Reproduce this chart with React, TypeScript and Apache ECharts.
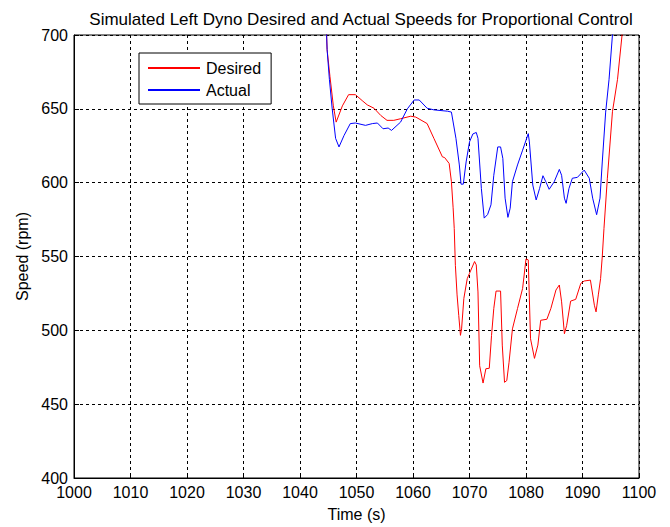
import React, { useEffect, useRef } from "react";
import * as echarts from "echarts";

const titleText = "Simulated Left Dyno Desired and Actual Speeds for Proportional Control";
const xTitle = "Time (s)";
const yTitle = "Speed (rpm)";
const seriesNames = ["Desired", "Actual"];

const desiredTime = [
  1044.6, 1044.8, 1045.3, 1045.9, 1046.4, 1047.5, 1048.6, 1049.8, 1051.0, 1051.9,
  1053.1, 1054.3, 1055.4, 1056.6, 1057.8, 1059.6, 1060.5, 1062.5, 1063.7, 1065.2,
  1065.6, 1066.4, 1066.8, 1067.1, 1067.3, 1067.5, 1067.8, 1068.1, 1068.4, 1068.6,
  1069.0, 1069.6, 1070.0, 1070.9, 1071.2, 1071.5, 1071.8, 1072.4, 1072.9, 1073.5,
  1073.9, 1074.3, 1074.7, 1075.5, 1075.8, 1076.2, 1076.6, 1077.0, 1077.6, 1078.5,
  1079.4, 1080.0, 1080.4, 1080.8, 1081.5, 1082.1, 1082.6, 1083.7, 1084.4, 1085.3,
  1085.9, 1086.3, 1086.8, 1087.2, 1087.9, 1088.8, 1089.7, 1090.3, 1091.4, 1092.1,
  1092.4, 1092.8, 1093.2, 1093.5, 1093.8, 1094.4, 1095.3, 1096.2, 1097.0, 1097.3,
];
const desiredSpeed = [
  712, 690, 672, 652, 641, 652, 659.6, 659.6, 655.6, 652.7,
  650.4, 645.5, 642.2, 642.2, 643.3, 645, 644.4, 640, 630, 617.5,
  617, 613, 600.7, 583, 569, 544, 524, 510, 496.6, 501,
  521.6, 535, 538.6, 546.6, 544.3, 526, 476, 464.3, 474, 474.3,
  496.6, 514.8, 526.6, 526.6, 490, 464.8, 466, 478.4, 501, 514.8,
  528.4, 548.4, 547.7, 494.3, 481, 490, 506.8, 507.5, 514.8, 527.3,
  530.7, 519.3, 497.7, 503.4, 519.8, 521, 531.8, 533.4, 534, 517,
  512.5, 524, 535, 550, 569, 603, 648, 670, 700, 712,
];

const actualTime = [
  1044.6, 1044.8, 1045.2, 1045.7, 1046.3, 1046.9, 1047.8, 1048.9, 1049.8, 1051.6,
  1052.8, 1053.7, 1054.7, 1055.6, 1056.2, 1057.8, 1059.0, 1060.2, 1061.1, 1062.5,
  1063.7, 1066.1, 1066.8, 1067.6, 1068.2, 1068.5, 1068.9, 1069.4, 1070.0, 1070.6,
  1071.2, 1071.5, 1072.1, 1072.6, 1073.2, 1073.8, 1074.3, 1075.0, 1075.5, 1075.9,
  1076.3, 1076.8, 1077.2, 1077.6, 1078.5, 1079.4, 1080.4, 1080.6, 1081.2, 1081.8,
  1082.4, 1083.0, 1083.5, 1084.1, 1085.0, 1085.9, 1086.3, 1086.8, 1087.1, 1087.6,
  1088.2, 1089.1, 1090.3, 1091.2, 1091.8, 1092.5, 1093.1, 1093.5, 1094.1, 1094.7,
  1095.3, 1095.6,
];
const actualSpeed = [
  712, 690, 670, 650, 630, 624.2, 632, 640, 640.4, 638.8,
  640, 640.4, 636.5, 637, 635.4, 641, 650, 656, 656, 650.4,
  649.3, 648.4, 647.8, 630, 612, 599, 599, 614, 627.6, 633,
  634, 630, 596, 576, 578.4, 585, 605, 624.2, 624.2, 616.4,
  589.5, 576.5, 582.7, 600.7, 612, 622, 633.2, 627.6, 598.4, 588.3,
  596, 604.7, 600.7, 595.5, 600.7, 609, 605, 589.5, 586, 596,
  603, 603.6, 608.5, 603, 589.5, 578.3, 589.5, 614, 647.8, 670,
  700, 715,
];

const xMin = 1000;
const xMax = 1100;
const xStep = 10;
const yMin = 400;
const yMax = 700;
const yStep = 50;

const FONT = "'Liberation Sans', Arial, Helvetica, sans-serif";

export default function App() {
  const ref = useRef<HTMLDivElement>(null);
  useEffect(() => {
    if (!ref.current) return;
    const chart = echarts.init(ref.current, null, { renderer: "svg" });
    const pair = (t: number[], v: number[]) => t.map((x, i) => [x, v[i]]);
    const gridLine = { show: true, lineStyle: { color: "#000", type: [3, 3] as any, width: 1 } };
    const tick = { show: true, inside: true, length: 5, lineStyle: { color: "#000" } };
    chart.setOption({
      animation: false,
      backgroundColor: "#fff",
      textStyle: { fontFamily: FONT },
      title: {
        text: titleText,
        left: 356,
        textAlign: "center",
        top: 6,
        textStyle: { fontFamily: FONT, fontSize: 17, fontWeight: "normal", color: "#000" },
      },
      grid: {
        left: 74,
        right: 31,
        top: 35,
        bottom: 46,
        show: true,
        borderColor: "#000",
        borderWidth: 1,
        backgroundColor: "#fff",
      },
      legend: {
        orient: "vertical",
        left: 139,
        top: 53,
        padding: [7, 10, 6, 9],
        itemGap: 6,
        itemWidth: 52,
        itemHeight: 2,
        icon: "rect",
        backgroundColor: "#fff",
        borderColor: "#000",
        borderWidth: 1,
        textStyle: { fontFamily: FONT, fontSize: 16, color: "#000", padding: [0, 0, 0, 1] },
        data: seriesNames,
      },
      xAxis: {
        type: "value",
        min: xMin,
        max: xMax,
        interval: xStep,
        name: xTitle,
        nameLocation: "middle",
        nameGap: 28,
        nameTextStyle: { fontFamily: FONT, fontSize: 16, color: "#000" },
        axisLine: { show: true, lineStyle: { color: "#000" } },
        axisTick: tick,
        axisLabel: {
          color: "#000",
          fontSize: 16,
          fontFamily: FONT,
          margin: 6,
          formatter: (v: number) => String(v),
        },
        splitLine: gridLine,
      },
      yAxis: {
        type: "value",
        min: yMin,
        max: yMax,
        interval: yStep,
        name: yTitle,
        nameLocation: "middle",
        nameGap: 44,
        nameTextStyle: { fontFamily: FONT, fontSize: 16, color: "#000" },
        axisLine: { show: true, lineStyle: { color: "#000" } },
        axisTick: tick,
        axisLabel: {
          color: "#000",
          fontSize: 16,
          fontFamily: FONT,
          margin: 6,
          formatter: (v: number) => String(v),
        },
        splitLine: gridLine,
      },
      series: [
        {
          name: seriesNames[0],
          type: "line",
          data: pair(desiredTime, desiredSpeed),
          showSymbol: false,
          symbol: "none",
          clip: true,
          lineStyle: { color: "#ff0000", width: 1 },
          itemStyle: { color: "#ff0000" },
        },
        {
          name: seriesNames[1],
          type: "line",
          data: pair(actualTime, actualSpeed),
          showSymbol: false,
          symbol: "none",
          clip: true,
          lineStyle: { color: "#0000ff", width: 1 },
          itemStyle: { color: "#0000ff" },
        },
      ],
    });
    return () => chart.dispose();
  }, []);
  return <div ref={ref} style={{ width: 670, height: 527, position: "absolute", left: 0, top: 0 }} />;
}
